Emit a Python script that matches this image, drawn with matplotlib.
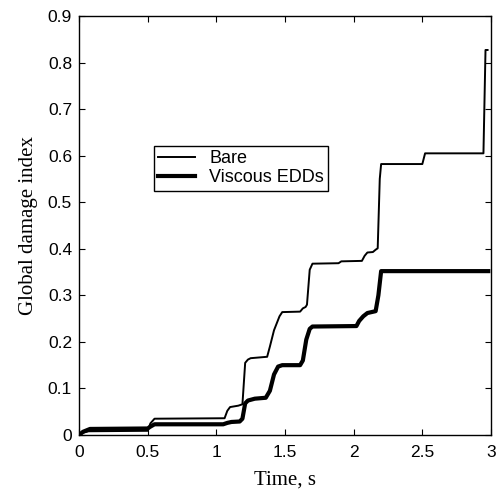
import matplotlib
matplotlib.use("Agg")
import matplotlib.pyplot as plt

# Bare frame (thin line)
t_bare = [0.0, 0.03, 0.07, 0.50, 0.52, 0.55, 1.06, 1.08, 1.10, 1.16, 1.19, 1.21, 1.23,
          1.25, 1.37, 1.39, 1.42, 1.46, 1.48, 1.61, 1.63, 1.65, 1.66, 1.68, 1.70,
          1.89, 1.91, 2.06, 2.08, 2.10, 2.14, 2.16, 2.175, 2.19, 2.20, 2.50, 2.52,
          2.945, 2.96, 2.975]
v_bare = [0.0, 0.005, 0.008, 0.009, 0.025, 0.035, 0.036, 0.052, 0.060, 0.063, 0.066, 0.155,
          0.162, 0.165, 0.168, 0.190, 0.225, 0.255, 0.264, 0.265, 0.272, 0.275, 0.280,
          0.355, 0.368, 0.369, 0.373, 0.374, 0.385, 0.392, 0.393, 0.398, 0.401, 0.55,
          0.582, 0.582, 0.605, 0.605, 0.827, 0.827]

# Viscous EDDs (thick line)
t_visc = [0.0, 0.03, 0.08, 0.50, 0.52, 0.55, 1.05, 1.08, 1.11, 1.17, 1.19, 1.21, 1.23,
          1.28, 1.36, 1.39, 1.42, 1.45, 1.48, 1.61, 1.63, 1.655, 1.68, 1.70,
          2.02, 2.04, 2.07, 2.10, 2.16, 2.18, 2.20, 2.98]
v_visc = [0.0, 0.007, 0.013, 0.014, 0.018, 0.023, 0.023, 0.026, 0.028, 0.029, 0.035, 0.068,
          0.074, 0.078, 0.080, 0.095, 0.130, 0.147, 0.150, 0.150, 0.160, 0.205, 0.228,
          0.233, 0.234, 0.245, 0.255, 0.262, 0.266, 0.300, 0.352, 0.352]

plt.rcParams["font.family"] = ["Liberation Sans", "DejaVu Sans"]
plt.rcParams["xtick.direction"] = "in"
plt.rcParams["ytick.direction"] = "in"

fig = plt.figure(figsize=(4.98, 4.96), dpi=100)
ax = fig.add_axes([79 / 498, 61 / 496, 412 / 498, 419 / 496])

ax.plot(t_bare, v_bare, color="black", lw=1.4, label="Bare")
ax.plot(t_visc, v_visc, color="black", lw=3.0, label="Viscous EDDs")

ax.set_xlim(0, 3)
ax.set_ylim(0, 0.9)
ax.set_xticks([0, 0.5, 1, 1.5, 2, 2.5, 3])
ax.set_xticklabels(["0", "0.5", "1", "1.5", "2", "2.5", "3"])
ax.set_yticks([0, 0.1, 0.2, 0.3, 0.4, 0.5, 0.6, 0.7, 0.8, 0.9])
ax.set_yticklabels(["0", "0.1", "0.2", "0.3", "0.4", "0.5", "0.6", "0.7", "0.8", "0.9"])
ax.tick_params(labelsize=12.5, length=4, width=0.8, top=True, right=True)
ax.tick_params(axis="x", pad=7)
ax.tick_params(axis="y", pad=5)
for s in ax.spines.values():
    s.set_linewidth(1.0)

ax.set_xlabel("Time, s", family=["Liberation Serif"], fontsize=15, labelpad=8)
ax.set_ylabel("Global damage index", family=["Liberation Serif"], fontsize=15, labelpad=7)

leg = ax.legend(loc="upper left", bbox_to_anchor=(0.182, 0.69), fontsize=13,
                frameon=True, fancybox=False, edgecolor="black", framealpha=1,
                handlelength=2.0, borderpad=0.25, labelspacing=0.1, borderaxespad=0)
leg.get_frame().set_linewidth(1.0)

fig.savefig("out.png", dpi=100)
